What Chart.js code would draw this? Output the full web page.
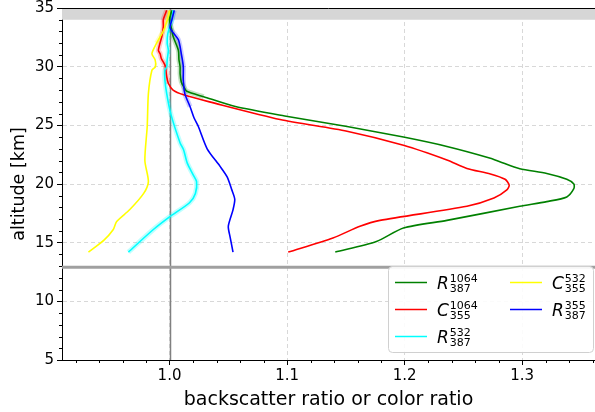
<!DOCTYPE html>
<html>
<head>
<meta charset="utf-8">
<script src="https://cdn.jsdelivr.net/npm/chart.js@4/dist/chart.umd.min.js"></script>
<style>
  body { margin: 0; background: #fff; }
  #graficoPerfil { display: block; }
</style>
</head>
<body>
<canvas id="graficoPerfil" width="595" height="412"></canvas>
<script>
// altitudes [km] and values, top to bottom
const altR1064 = [34.8, 34.0, 33.1, 32.6, 31.4, 30.6, 30.0, 29.4, 28.7, 28.3, 27.9, 27.44, 26.6, 25.8, 24.9, 24.0, 23.2, 22.2, 21.9, 21.3, 20.9, 20.4, 20.0, 19.6, 18.9, 18.5, 18.1, 16.9, 16.25, 15.1, 14.2];
const valR1064 = [1.002, 1.000, 1.002, 1.003, 1.0075, 1.008, 1.009, 1.009, 1.010, 1.012, 1.0147, 1.029, 1.056, 1.098, 1.151, 1.199, 1.236, 1.273, 1.281, 1.298, 1.321, 1.338, 1.344, 1.344, 1.338, 1.321, 1.298, 1.236, 1.199, 1.176, 1.141];

const altC1064 = [34.8, 34.0, 33.4, 32.6, 31.4, 31.1, 30.7, 30.1, 29.15, 28.57, 28.0, 27.6, 27.0, 25.5, 24.5, 23.3, 22.05, 21.33, 20.86, 20.4, 19.9, 19.5, 18.8, 18.1, 16.9, 16.4, 15.4, 14.2];
const valC1064 = [0.9976, 0.9947, 0.9947, 0.9935, 0.9905, 0.992, 0.993, 0.9962, 0.9976, 0.999, 1.003, 1.012, 1.034, 1.094, 1.151, 1.199, 1.236, 1.253, 1.273, 1.2855, 1.289, 1.287, 1.276, 1.253, 1.179, 1.162, 1.139, 1.101];

const altR532 = [34.8, 34.0, 32.8, 32.0, 31.4, 30.6, 30.0, 29.7, 28.9, 27.7, 26.0, 23.5, 22.9, 21.8, 20.8, 20.2, 19.2, 18.4, 17.2, 16.1, 14.2];
const valR532 = [1.003, 1.002, 0.9985, 0.998, 0.999, 0.998, 0.9976, 0.996, 0.996, 0.9976, 1.001, 1.009, 1.012, 1.015, 1.020, 1.023, 1.022, 1.017, 1.000, 0.986, 0.965];

const altC532 = [34.8, 34.3, 33.1, 32.0, 31.1, 30.6, 30.0, 29.7, 27.7, 24.9, 22.0, 20.2, 19.2, 17.8, 16.8, 16.1, 15.2, 14.2];
const valC532 = [1.000, 0.999, 0.995, 0.989, 0.985, 0.9877, 0.988, 0.985, 0.982, 0.981, 0.979, 0.982, 0.978, 0.966, 0.955, 0.952, 0.944, 0.931];

const altR355 = [34.8, 34.0, 33.3, 32.3, 31.1, 30.0, 28.9, 27.7, 26.6, 25.6, 24.9, 23.0, 21.5, 20.6, 19.5, 18.7, 17.8, 16.4, 15.5, 14.2];
const valR355 = [1.004, 1.002, 1.0005, 1.0075, 1.010, 1.0117, 1.0117, 1.013, 1.0174, 1.021, 1.0245, 1.032, 1.043, 1.049, 1.053, 1.0555, 1.054, 1.050, 1.0515, 1.054];

const xTicks = [1.0, 1.1, 1.2, 1.3];
const yTicks = [5, 10, 15, 20, 25, 30, 35];
const xMin = 0.9085, xMax = 1.362;
const yMin = 5, yMax = 35;
const tropopause = 12.9;
const bandAlt = [34, 35];

const series = [
  { base: "R", sup: "1064", sub: "387", color: "#008000", halo: "rgba(0,128,0,0.22)", haloFrom: 27.5, alt: altR1064, val: valR1064 },
  { base: "C", sup: "1064", sub: "355", color: "#ff0000", halo: "rgba(255,0,0,0.2)", haloFrom: 29.0, alt: altC1064, val: valC1064 },
  { base: "R", sup: "532", sub: "387", color: "#00ffff", halo: "rgba(0,255,255,0.25)", haloFrom: 0, alt: altR532, val: valR532 },
  { base: "C", sup: "532", sub: "355", color: "#ffff00", halo: "rgba(255,255,0,0.25)", haloFrom: 33.0, alt: altC532, val: valC532 },
  { base: "R", sup: "355", sub: "387", color: "#0000ff", halo: "rgba(0,0,255,0.2)", haloFrom: 27.5, alt: altR355, val: valR355 },
];

const FONT = "DejaVu Sans";

const fondo = {
  id: "fondo",
  beforeDatasetsDraw(chart) {
    const { ctx, chartArea: a, scales: { x, y } } = chart;
    ctx.save();
    // gray band at the top
    ctx.fillStyle = "#d6d6d6";
    const yb0 = y.getPixelForValue(bandAlt[1]), yb1 = y.getPixelForValue(bandAlt[0]);
    ctx.fillRect(a.left, yb0, a.right - a.left, yb1 - yb0);
    // vertical reference at 1.0
    ctx.strokeStyle = "#808080";
    ctx.lineWidth = 1.5;
    const x1 = Math.round(x.getPixelForValue(1.0)) + 0.5;
    ctx.beginPath(); ctx.moveTo(x1, a.top); ctx.lineTo(x1, a.bottom); ctx.stroke();
    // tropopause
    ctx.strokeStyle = "#a0a0a0";
    ctx.lineWidth = 3;
    const yt = y.getPixelForValue(tropopause);
    ctx.beginPath(); ctx.moveTo(a.left, yt); ctx.lineTo(a.right, yt); ctx.stroke();
    ctx.restore();
  },
  afterDraw(chart) {
    const { ctx, chartArea: a, scales: { x, y } } = chart;
    ctx.save();
    ctx.strokeStyle = "#000";
    ctx.lineWidth = 1;
    // top spine
    ctx.beginPath(); ctx.moveTo(a.left, a.top + 0.5); ctx.lineTo(a.right, a.top + 0.5); ctx.stroke();
    // minor ticks
    ctx.beginPath();
    for (let v = 6; v < 35; v++) {
      if (v % 5 === 0) continue;
      const py = Math.round(y.getPixelForValue(v)) + 0.5;
      ctx.moveTo(a.left, py); ctx.lineTo(a.left - 3, py);
    }
    for (let i = 46; i <= 68; i++) {
      if (i % 5 === 0) continue;
      const v = i * 0.02;
      if (v < xMin || v > xMax) continue;
      const px = Math.round(x.getPixelForValue(v)) + 0.5;
      ctx.moveTo(px, a.bottom); ctx.lineTo(px, a.bottom + 3);
    }
    ctx.stroke();

    // legend
    const lx = 388.5, ly = 266.5, lw = 205, lh = 86;
    ctx.fillStyle = "rgba(255,255,255,0.9)";
    ctx.strokeStyle = "#d0d0d0";
    ctx.beginPath(); ctx.roundRect(lx, ly, lw, lh, 4); ctx.fill(); ctx.stroke();
    const slots = [[395, 282.5], [395, 309.5], [395, 336.5], [510, 282.5], [510, 309.5]];
    series.forEach((s, i) => {
      const [sx, sy] = slots[i];
      ctx.strokeStyle = s.color;
      ctx.lineWidth = 1.5;
      ctx.beginPath(); ctx.moveTo(sx, sy); ctx.lineTo(sx + 32, sy); ctx.stroke();
      ctx.fillStyle = "#000";
      ctx.textBaseline = "alphabetic";
      ctx.textAlign = "left";
      ctx.font = "oblique 17px '" + FONT + "'";
      const tx = sx + 42;
      ctx.fillText(s.base, tx, sy + 6);
      const w = ctx.measureText(s.base).width;
      ctx.font = "11px '" + FONT + "'";
      ctx.fillText(s.sup, tx + w + 1, sy - 1);
      ctx.fillText(s.sub, tx + w + 1, sy + 9);
    });
    ctx.restore();
  },
};

const puntos = s => s.alt.map((h, i) => ({ x: s.val[i], y: h }));

const lineas = series.map((s, k) => ({
  label: s.base + s.sup + s.sub,
  data: puntos(s),
  showLine: true,
  borderColor: s.color,
  backgroundColor: s.color,
  borderWidth: 1.6,
  pointRadius: 0,
  tension: 0.25,
  order: 10 - k,
}));

const halos = series.map(s => ({
  label: "halo",
  data: puntos(s),
  showLine: true,
  borderColor: s.halo,
  borderWidth: 5,
  pointRadius: 0,
  tension: 0.25,
  order: 20,
  segment: { borderColor: c => (c.p0.parsed.y >= s.haloFrom ? s.halo : "rgba(0,0,0,0)") },
}));

const ctx = document.getElementById("graficoPerfil").getContext("2d");
new Chart(ctx, {
  type: "scatter",
  data: { datasets: halos.concat(lineas) },
  options: {
    responsive: false,
    animation: false,
    devicePixelRatio: 1,
    layout: { padding: { top: 8, right: 0, left: 0, bottom: 0 } },
    plugins: { legend: { display: false }, tooltip: { enabled: false } },
    scales: {
      x: {
        type: "linear",
        min: xMin,
        max: xMax,
        afterBuildTicks: s => { s.ticks = xTicks.map(v => ({ value: v })); },
        afterFit: s => { s.height = 52; s.paddingLeft = 0; s.paddingRight = 0; },
        grid: { color: "rgba(190,190,190,0.6)", tickColor: "#000", tickLength: 5 },
        border: { color: "#000", dash: [4, 3] },
        ticks: { color: "#000", font: { family: FONT, size: 15 }, padding: 2, callback: v => v.toFixed(1) },
        title: { display: true, text: "backscatter ratio or color ratio", color: "#000", font: { family: FONT, size: 19 }, padding: { top: 0, bottom: 1 } },
      },
      y: {
        type: "linear",
        min: yMin,
        max: yMax,
        afterBuildTicks: s => { s.ticks = yTicks.map(v => ({ value: v })); },
        afterFit: s => { s.width = 62; s.paddingTop = 0; s.paddingBottom = 0; },
        grid: { color: "rgba(190,190,190,0.6)", tickColor: "#000", tickLength: 5 },
        border: { color: "#000", dash: [4, 3] },
        ticks: { color: "#000", font: { family: FONT, size: 15 }, padding: 3 },
        title: { display: true, text: "altitude [km]", color: "#000", font: { family: FONT, size: 17.5 }, padding: { top: 9, bottom: 2 } },
      },
    },
  },
  plugins: [fondo],
});
</script>
</body>
</html>
